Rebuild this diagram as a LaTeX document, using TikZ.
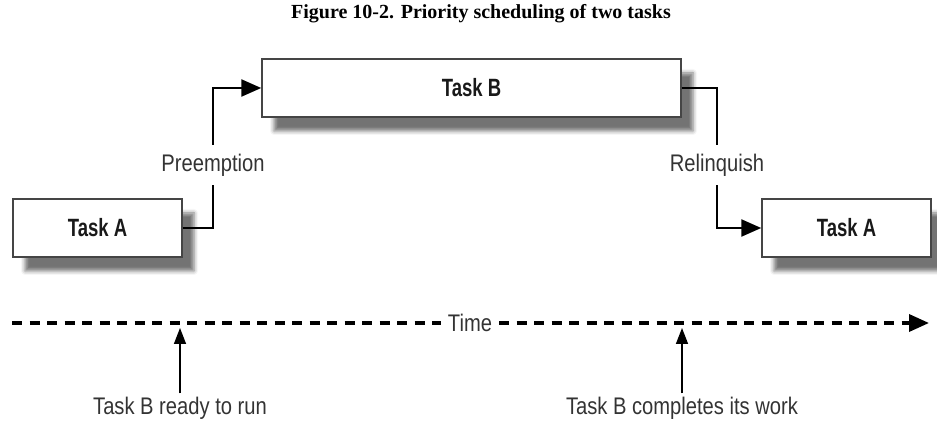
\documentclass[tikz,border=0pt]{standalone}
\usepackage{fontspec}
\setmainfont{Liberation Serif}
\newfontfamily\notefont[FakeStretch=0.84]{Liberation Sans}
\newfontfamily\taskfont[FakeStretch=0.74]{Liberation Sans}
\usetikzlibrary{arrows.meta,shadows.blur}
\definecolor{boxline}{HTML}{454545}
\definecolor{notetext}{HTML}{333333}
\tikzset{
  task/.style={draw=boxline,line width=1.5pt,fill=white,minimum width=169pt,minimum height=58pt,
    font=\taskfont\bfseries\fontsize{25}{28}\selectfont,text=black!90,
    blur shadow={shadow xshift=12pt,shadow yshift=-14pt,shadow blur radius=4pt,shadow opacity=55}},
  note/.style={font=\notefont\fontsize{24}{27}\selectfont,text=notetext},
  link/.style={line width=2.5pt},
  bigtip/.style={-{Triangle[length=20pt,width=17pt]}},
  timeline/.style={line width=3.5pt,dash pattern=on 10pt off 7.5pt},
  event/.style={line width=1.5pt,-{Triangle[length=16pt,width=12pt]}}
}
\begin{document}
\begin{tikzpicture}[x=1pt,y=1pt]
       \useasboundingbox(0,0)rectangle(937,423);
       \node[font=\bfseries\fontsize{20}{23}\selectfont](title)at(481,409.5){Figure 10-2. Priority scheduling of two tasks};
       \node[task](taskA1)at(97.5,195){Task A};
       \node[task,minimum width=419pt](taskB)at(471.5,335){Task B};
       \node[task](taskA2)at(846.5,195){Task A};
       \node[note,inner ysep=9pt](pre)at(213,258){Preemption};
       \node[note,inner ysep=9pt](rel)at(717,258){Relinquish};
       \draw[link](taskA1.east)-|(pre.south);
       \draw[link,bigtip](pre.north)|-(taskB.west);
       \draw[link](taskB.east)-|(rel.north);
       \draw[link,bigtip](rel.south)|-(taskA2.west);
       % time axis
       \node[note,inner xsep=7pt](time)at(470,100){Time};
       \coordinate(t0)at(12,100);
       \coordinate(t1)at(929,100);
       \draw[timeline](t0)--(time.west);
       \draw[timeline,bigtip](time.east)--(t1);
       \node[note](ready)at(180,15){Task B ready to run};
       \node[note](done)at(682,15){Task B completes its work};
       \coordinate(readyT)at(180,95);
       \coordinate(doneT)at(682,95);
       \draw[event](ready.north)--(readyT);
       \draw[event](done.north)--(doneT);
      \end{tikzpicture}
\end{document}
